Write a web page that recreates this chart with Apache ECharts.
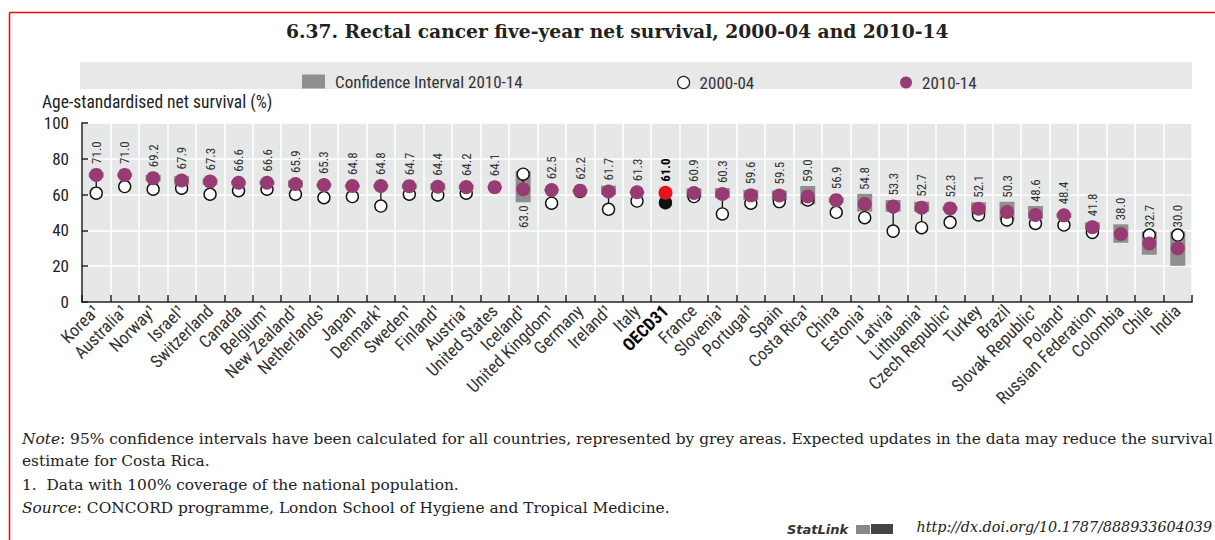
<!DOCTYPE html>
<html>
<head>
<meta charset="utf-8">
<script src="https://cdn.jsdelivr.net/npm/echarts@6/dist/echarts.min.js"></script>
<style>
html,body{margin:0;padding:0;background:#fff;}
#chart{width:1215px;height:540px;}
</style>
</head>
<body>
<div id="chart"></div>
<script>
var categories = ['Korea¹','Australia¹','Norway¹','Israel¹','Switzerland','Canada','Belgium¹','New Zealand¹','Netherlands¹','Japan','Denmark¹','Sweden¹','Finland¹','Austria¹','United States','Iceland¹','United Kingdom¹','Germany','Ireland¹','Italy','OECD31','France','Slovenia¹','Portugal¹','Spain','Costa Rica¹','China','Estonia¹','Latvia¹','Lithuania¹','Czech Republic¹','Turkey','Brazil','Slovak Republic¹','Poland¹','Russian Federation','Colombia','Chile','India'];
var surv2010 = [71.0,71.0,69.2,67.9,67.3,66.6,66.6,65.9,65.3,64.8,64.8,64.7,64.4,64.2,64.1,63.0,62.5,62.2,61.7,61.3,61.0,60.9,60.3,59.6,59.5,59.0,56.9,54.8,53.3,52.7,52.3,52.1,50.3,48.6,48.4,41.8,38.0,32.7,30.0];
var surv2000 = [60.8,64.5,63.0,63.6,60.2,62.2,63.0,60.2,58.3,58.9,53.6,60.2,59.8,60.8,null,71.4,55.2,61.8,51.8,56.4,55.5,58.9,49.2,55.2,56.1,57.0,50.1,47.1,39.6,41.5,44.5,48.6,45.8,43.9,43.0,38.9,null,37.4,37.4];
var ciLow  = [69.5,70.0,67.5,65.5,65.5,65.5,65.5,64.0,64.3,64.0,63.5,63.2,62.5,62.8,63.8,55.7,62.0,61.5,59.8,60.8,null,58.5,58.0,57.0,57.0,54.6,55.5,50.5,50.4,50.4,51.0,49.5,45.8,46.4,47.0,40.2,33.1,26.4,20.2];
var ciHigh = [72.5,72.0,71.0,70.3,69.0,67.7,67.7,68.0,66.3,65.6,66.0,66.2,66.3,65.6,64.4,73.3,63.0,62.9,65.0,61.8,null,63.5,63.6,62.6,62.3,64.8,58.3,60.4,57.0,56.0,53.6,55.7,56.0,53.6,49.8,44.5,43.4,39.4,39.4];
var labelBelow = ['Iceland¹'];
var highlight = 'OECD31';

var PURPLE = '#983b73', RED = '#e3141c', GREY = '#8f8f8f';
var NARROW = "'Liberation Sans Narrow','Roboto Condensed','Liberation Sans',Arial,sans-serif";
var SERIF = "'DejaVu Serif','Liberation Serif',serif";
var hIdx = categories.indexOf(highlight);

var ciData = categories.map(function(c,i){ return [i, ciLow[i], ciHigh[i]]; });
var linkData = categories.map(function(c,i){ return [i, surv2000[i], surv2010[i]]; });
var lblData = categories.map(function(c,i){ return [i, surv2010[i], ciLow[i], ciHigh[i]]; });

var old = surv2000.map(function(v,i){
  if (i === hIdx) return {value:v, itemStyle:{color:'#111', borderColor:'#111'}};
  return v;
});
var cur = surv2010.map(function(v,i){
  if (i === hIdx) return {value:v, itemStyle:{color:RED}};
  return v;
});

var legendText = {fontFamily:NARROW, fontSize:17, color:'#333', padding:[0,0,0,5]};

var chart = echarts.init(document.getElementById('chart'), null, {renderer:'svg'});
var option = {
  animation:false,
  grid:{left:82, right:23, top:123, bottom:238, show:true, backgroundColor:'#e6e7e7', borderWidth:0},
  graphic:[
    {type:'line', shape:{x1:9.5,y1:12.5,x2:1215,y2:12.5}, style:{stroke:'#ff0000', lineWidth:1.5}, silent:true},
    {type:'line', shape:{x1:9.5,y1:12.5,x2:9.5,y2:540}, style:{stroke:'#ff0000', lineWidth:1.5}, silent:true},
    {type:'text', left:286, top:21, style:{text:'6.37. Rectal cancer five-year net survival, 2000-04 and 2010-14', font:'bold 18.7px '+SERIF, fill:'#222'}},
    {type:'rect', shape:{x:80,y:62,width:1112,height:27}, style:{fill:'#e8e8e8'}, z:-1},
    {type:'text', left:42, top:93, style:{text:'Age-standardised net survival (%)', font:'17.5px '+NARROW, fill:'#222'}},
    {type:'text', left:22, top:431, style:{text:'{i|Note}: 95% confidence intervals have been calculated for all countries, represented by grey areas. Expected updates in the data may reduce the survival', font:'15.4px '+SERIF, fill:'#222', rich:{i:{fontStyle:'italic', fontFamily:SERIF, fontSize:15.4, fill:'#222'}}}},
    {type:'text', left:22, top:453, style:{text:'estimate for Costa Rica.', font:'15.4px '+SERIF, fill:'#222'}},
    {type:'text', left:22, top:477, style:{text:'1.  Data with 100% coverage of the national population.', font:'15.4px '+SERIF, fill:'#222'}},
    {type:'text', left:22, top:500, style:{text:'{i|Source}: CONCORD programme, London School of Hygiene and Tropical Medicine.', font:'15.4px '+SERIF, fill:'#222', rich:{i:{fontStyle:'italic', fontFamily:SERIF, fontSize:15.4, fill:'#222'}}}},
    {type:'text', left:787, top:523, style:{text:'StatLink', font:'italic bold 13px '+"'DejaVu Sans',sans-serif", fill:'#333'}},
    {type:'rect', shape:{x:856,y:525,width:14,height:9}, style:{fill:'#888'}},
    {type:'rect', shape:{x:871,y:524,width:22,height:10}, style:{fill:'#444'}},
    {type:'text', right:3, top:520, style:{text:'http://dx.doi.org/10.1787/888933604039', font:'italic 14.3px '+SERIF, fill:'#222'}}
  ],
  legend:[
    {left:297, top:68, itemWidth:23, itemHeight:14, textStyle:legendText,
     data:[{name:'Confidence Interval 2010-14', icon:'rect', itemStyle:{color:GREY}}], selectedMode:false},
    {left:672, top:69, itemWidth:12, itemHeight:12, textStyle:legendText,
     data:[{name:'2000-04', icon:'circle', itemStyle:{color:'#fff', borderColor:'#222', borderWidth:1.2}}], selectedMode:false},
    {left:895, top:69, itemWidth:12, itemHeight:12, textStyle:legendText,
     data:[{name:'2010-14', icon:'circle', itemStyle:{color:PURPLE}}], selectedMode:false}
  ],
  xAxis:{
    type:'category', data:categories, boundaryGap:true,
    axisLine:{lineStyle:{color:'#222', width:1.5}},
    axisTick:{show:true, inside:true, length:7, lineStyle:{color:'#222', width:1.5}},
    splitLine:{show:true, lineStyle:{color:'#fff', width:1.5}},
    axisLabel:{rotate:45, interval:0, margin:6, fontFamily:NARROW, fontSize:17.5, color:'#333',
      formatter:function(v){ return v === highlight ? '{b|'+v+'}' : v; },
      rich:{b:{fontWeight:'bold', color:'#000', fontFamily:NARROW, fontSize:17.5}}}
  },
  yAxis:{
    type:'value', min:0, max:100, interval:20,
    axisLine:{show:true, lineStyle:{color:'#222', width:1.5}},
    axisTick:{show:true, inside:true, length:6, lineStyle:{color:'#222', width:1.5}},
    splitLine:{show:true, lineStyle:{color:'#fff', width:1.5}},
    axisLabel:{fontFamily:NARROW, fontSize:17, color:'#222', margin:13}
  },
  series:[
    {name:'Confidence Interval 2010-14', type:'custom', z:1, itemStyle:{color:GREY},
     data:ciData,
     renderItem:function(params, api){
       var lo = api.value(1), hi = api.value(2);
       if (isNaN(lo) || isNaN(hi)) return null;
       var p1 = api.coord([api.value(0), hi]), p2 = api.coord([api.value(0), lo]);
       return {type:'rect', shape:{x:p1[0]-7.5, y:p1[1], width:15, height:p2[1]-p1[1]}, style:{fill:GREY}};
     }},
    {name:'link', type:'custom', z:2, data:linkData,
     renderItem:function(params, api){
       var a = api.value(1), b = api.value(2);
       if (isNaN(a) || isNaN(b)) return null;
       var p1 = api.coord([api.value(0), a]), p2 = api.coord([api.value(0), b]);
       return {type:'line', shape:{x1:p1[0], y1:p1[1], x2:p2[0], y2:p2[1]}, style:{stroke:'#111', lineWidth:1.3}};
     }},
    {name:'2000-04', type:'scatter', z:3, symbol:'circle', symbolSize:12, data:old,
     itemStyle:{color:'#fff', borderColor:'#111', borderWidth:1.4, opacity:1}},
    {name:'2010-14', type:'scatter', z:4, symbol:'circle', symbolSize:14, data:cur,
     itemStyle:{color:PURPLE, opacity:1}},
    {name:'labels', type:'custom', z:5, data:lblData,
     renderItem:function(params, api){
       var i = api.value(0), v = api.value(1), lo = api.value(2), hi = api.value(3);
       var pv = api.coord([i, v]);
       var txt = v.toFixed(1);
       var isH = (i === hIdx);
       if (labelBelow.indexOf(categories[i]) >= 0) {
         var pl = api.coord([i, lo]);
         var yb = Math.max(pl[1], pv[1] + 7) + 3;
         return {type:'text', x:pv[0], y:yb, rotation:Math.PI/2,
           style:{text:txt, textAlign:'right', textVerticalAlign:'middle', font:'13px '+NARROW, fill:'#333'}};
       }
       var top = pv[1] - 7;
       if (!isNaN(hi)) { var ph = api.coord([i, hi]); top = Math.min(top, ph[1]); }
       return {type:'text', x:pv[0], y:top - 4, rotation:Math.PI/2,
         style:{text:txt, textAlign:'left', textVerticalAlign:'middle', font:(isH?'bold ':'')+'13px '+NARROW, fill:isH?'#000':'#333'}};
     }}
  ]
};
chart.setOption(option);
</script>
</body>
</html>
